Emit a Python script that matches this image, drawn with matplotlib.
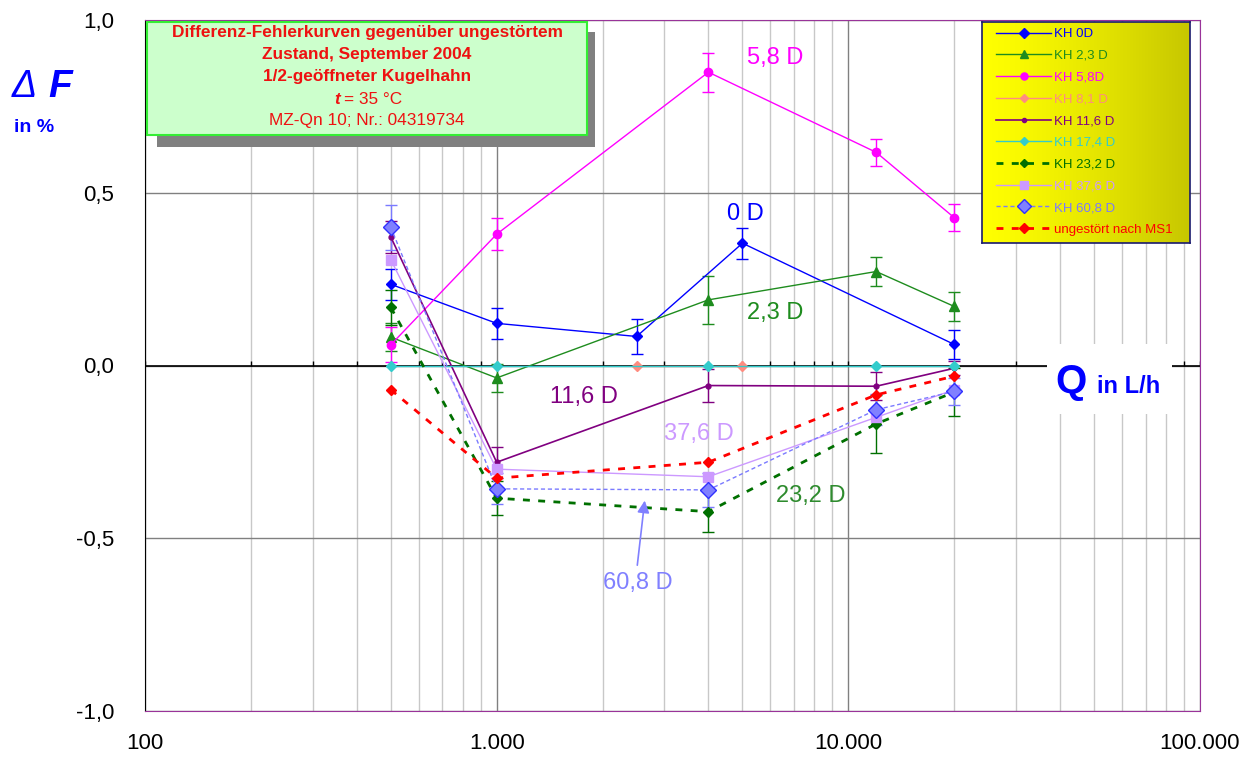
import numpy as np
import matplotlib
matplotlib.use("Agg")
import matplotlib.pyplot as plt
from matplotlib.patches import Rectangle
from matplotlib.ticker import NullFormatter

plt.rcParams['font.family'] = ['Liberation Sans', 'DejaVu Sans']

# Durchfluss Q in L/h
q_std = [500, 1000, 4000, 12000, 20000]
q_0d = [500, 1000, 2500, 5000, 20000]
q_81 = [2500, 5000]

# Differenzfehler dF in %
df_0d = [0.235, 0.122, 0.084, 0.354, 0.061]
df_23 = [0.082, -0.036, 0.19, 0.272, 0.171]
df_58 = [0.06, 0.38, 0.849, 0.617, 0.428]
df_81 = [0.0, 0.0]
df_116 = [0.372, -0.28, -0.058, -0.06, -0.008]
df_174 = [0.0, 0.0, 0.0, 0.0, 0.0]
df_232 = [0.168, -0.384, -0.423, -0.169, -0.077]
df_376 = [0.306, -0.30, -0.322, -0.15, -0.07]
df_608 = [0.40, -0.357, -0.36, -0.128, -0.075]
df_ms1 = [-0.07, -0.326, -0.28, -0.085, -0.031]

# Fehlerbalken (+/-)
err_0d = [0.045, 0.045, 0.05, 0.045, 0.042]
err_23 = [0.04, 0.04, 0.07, 0.042, 0.043]
err_58 = [0.05, 0.046, 0.056, 0.04, 0.04]
err_116 = [0.045, 0.045, 0.047, 0.04, 0.02]
err_232 = [0.05, 0.05, 0.06, 0.085, 0.07]
err_608 = [0.065, 0.045, 0.05, 0.045, 0.04]

W, H = 1260, 760
def fx(px): return px / W
def fy(py): return 1 - py / H

fig = plt.figure(figsize=(12.6, 7.6), dpi=100)
fig.patch.set_facecolor('white')
ax = fig.add_axes([fx(145), fy(711), fx(1200) - fx(145), fy(20) - fy(711)])

ax.set_xscale('log')
ax.set_xlim(100, 100000)
ax.set_ylim(-1, 1)

ax.grid(which='major', axis='x', color='#808080', lw=1)
ax.grid(which='minor', axis='x', color='#C8C8C8', lw=1)
ax.grid(which='major', axis='y', color='#808080', lw=1)
ax.set_axisbelow(True)

ax.set_xticks([100, 1000, 10000, 100000])
ax.set_xticklabels(['100', '1.000', '10.000', '100.000'])
ax.xaxis.set_minor_formatter(NullFormatter())
ax.set_yticks([-1, -0.5, 0, 0.5, 1])
ax.set_yticklabels(['-1,0', '-0,5', '0,0', '0,5', '1,0'])
ax.tick_params(which='both', length=0, labelsize=16)
ax.tick_params(axis='x', pad=16)
ax.tick_params(axis='y', pad=22)

for s in ['top', 'right', 'bottom']:
    ax.spines[s].set_color('#993399')
ax.spines['left'].set_color('black')

# Nulllinie mit kleinen Teilstrichen
ax.axhline(0, color='black', lw=1.2, zorder=1.5)
minor_pos = [m * 10 ** e for e in range(2, 5) for m in range(1, 10)] + [100000]
ax.vlines(minor_pos, 0, 0.012, color='black', lw=1, zorder=1.5)

def series(q, df, color, label, marker, ms, ls='-', lw=1.0, mfc=None, mec=None, err=None):
    if err is not None:
        ax.errorbar(q, df, yerr=err, fmt='none', ecolor=color, elinewidth=1,
                    capsize=4, capthick=1, zorder=2)
    line, = ax.plot(q, df, color=color, ls=ls, lw=lw, marker=marker, ms=ms,
                    mfc=mfc or color, mec=mec or color, label=label, zorder=2.5)
    return line

handles = [
    series(q_0d, df_0d, '#0000FF', 'KH 0D', 'D', 5.5, err=err_0d),
    series(q_std, df_23, '#1E8C1E', 'KH 2,3 D', '^', 7, err=err_23),
    series(q_std, df_58, '#FF00FF', 'KH 5,8D', 'o', 6, err=err_58),
    series(q_81, df_81, '#FF8C80', 'KH 8,1 D', 'D', 5),
    series(q_std, df_116, '#800080', 'KH 11,6 D', 'o', 3.5, lw=1.2, err=err_116),
    series(q_std, df_174, '#33CCCC', 'KH 17,4 D', 'D', 5),
    series(q_std, df_232, '#007000', 'KH 23,2 D', 'D', 5, ls=(0, (2.5, 3)), lw=2, err=err_232),
    series(q_std, df_376, '#CC99FF', 'KH 37,6 D', 's', 6.5),
    series(q_std, df_608, '#7A7AFF', 'KH 60,8 D', 'D', 8, ls=(0, (3, 2)), lw=1,
           mfc='#8080FF', mec='#3030FF', err=err_608),
    series(q_std, df_ms1, '#FF0000', 'ungestört nach MS1', 'D', 5.5, ls=(0, (2.5, 3)), lw=2),
]

# Kurvenbeschriftungen
lab_kw = dict(fontsize=17, ha='center', va='center', zorder=4)
ax.text(6200, 0.89, '5,8 D', color='#FF00FF', **lab_kw)
ax.text(5080, 0.438, '0 D', color='#0000FF', **lab_kw)
ax.text(6200, 0.151, '2,3 D', color='#1E8C1E', **lab_kw)
ax.text(1770, -0.09, '11,6 D', color='#800080', **lab_kw)
ax.text(3760, -0.197, '37,6 D', color='#CC99FF', **lab_kw)
ax.text(7830, -0.377, '23,2 D', color='#2E8B2E', **lab_kw)
ax.text(2520, -0.629, '60,8 D', color='#8080FF', **lab_kw)
ax.annotate('', xy=(2642, -0.383), xytext=(2506, -0.586),
            arrowprops=dict(arrowstyle='-|>', color='#8080FF', lw=1.2,
                            mutation_scale=18), zorder=4)

# Achsbeschriftung Q
ax.add_patch(Rectangle((0.855, 0.43), 0.1185, 0.101, transform=ax.transAxes,
                       facecolor='white', edgecolor='none', zorder=3))
fig.text(fx(1055), fy(393), 'Q', fontsize=29, fontweight='bold', color='#0000FF',
         va='baseline', zorder=5)
fig.text(fx(1097), fy(393), 'in L/h', fontsize=17, fontweight='bold', color='#0000FF',
         va='baseline', zorder=5)

# Achsbeschriftung dF
fig.text(fx(12), fy(97), 'Δ', fontsize=27, style='italic', color='#0000FF', va='baseline')
fig.text(fx(48), fy(97), 'F', fontsize=28, style='italic', fontweight='bold',
         color='#0000FF', va='baseline')
fig.text(fx(14), fy(132), 'in %', fontsize=14, fontweight='bold', color='#0000FF',
         va='baseline')

# Titelkasten mit Schatten
fig.add_artist(Rectangle((fx(157), fy(147)), fx(595) - fx(157), fy(32) - fy(147),
                         transform=fig.transFigure, facecolor='#808080',
                         edgecolor='none', zorder=6))
fig.add_artist(Rectangle((fx(147), fy(135)), fx(587) - fx(147), fy(22) - fy(135),
                         transform=fig.transFigure, facecolor='#CCFFCC',
                         edgecolor='#33EE33', lw=1.5, zorder=7))
tcol = '#EE1111'
tfs = 12.4
cx = fx(367)
fig.text(cx, fy(32), 'Differenz-Fehlerkurven gegenüber ungestörtem', fontsize=tfs,
         fontweight='bold', color=tcol, ha='center', va='center', zorder=8)
fig.text(cx, fy(54), 'Zustand, September 2004', fontsize=tfs, fontweight='bold',
         color=tcol, ha='center', va='center', zorder=8)
fig.text(cx, fy(77), '1/2-geöffneter Kugelhahn', fontsize=tfs, fontweight='bold',
         color=tcol, ha='center', va='center', zorder=8)
fig.text(fx(340), fy(99), 't', fontsize=tfs, fontweight='bold', style='italic',
         color=tcol, ha='right', va='center', zorder=8)
fig.text(fx(344), fy(99), '= 35 °C', fontsize=tfs, color=tcol, ha='left',
         va='center', zorder=8)
fig.text(cx, fy(121), 'MZ-Qn 10; Nr.: 04319734', fontsize=tfs, color=tcol,
         ha='center', va='center', zorder=8)

# Legende mit Farbverlauf
lax = fig.add_axes([fx(982), fy(243), fx(1190) - fx(982), fy(22) - fy(243)])
grad = np.linspace(0, 1, 256)
rgb = np.zeros((1, 256, 3))
rgb[0, :, 0] = 1.0 - 0.22 * grad ** 1.3
rgb[0, :, 1] = 1.0 - 0.22 * grad ** 1.3
lax.imshow(rgb, aspect='auto', extent=(0, 1, 0, 1))
lax.set_xticks([])
lax.set_yticks([])
for s in lax.spines.values():
    s.set_color('#1A1A6E')
    s.set_linewidth(1.2)

leg = fig.legend(handles=handles, loc='upper left',
                 bbox_to_anchor=(fx(992), fy(24)), frameon=False, fontsize=9.5,
                 handlelength=4.2, handletextpad=0.2, labelspacing=0.72,
                 borderpad=0.3, borderaxespad=0, markerscale=0.85)
for txt, h in zip(leg.get_texts(), handles):
    txt.set_color(h.get_color())

fig.savefig('out.png', dpi=100)
